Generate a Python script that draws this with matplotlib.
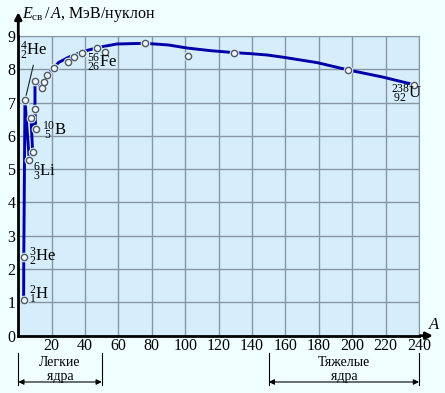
import matplotlib
matplotlib.use("Agg")
import matplotlib.pyplot as plt

plt.rcParams['font.family'] = ['Liberation Serif', 'DejaVu Serif']
plt.rcParams['mathtext.fontset'] = 'custom'
plt.rcParams['mathtext.rm'] = 'Liberation Serif'
plt.rcParams['mathtext.it'] = 'Liberation Serif:italic'

# light nuclei, zigzag through the measured points
A_light = [3.2, 3.3, 4.0, 6.6, 8.6, 7.6, 10.4, 10.0, 10.0, 14.0, 15.2, 17.4, 21.4]
E_light = [1.07, 2.37, 7.07, 5.27, 5.51, 6.55, 6.2, 6.8, 7.66, 7.43, 7.62, 7.83, 8.05]

# smooth curve for heavier nuclei
A_fit = [21.4, 24, 30, 38, 47.2, 59, 76, 90, 101, 115, 129.4, 139, 149, 159, 179, 197.6, 218, 236.8]
E_fit = [8.05, 8.2, 8.36, 8.52, 8.65, 8.76, 8.78, 8.73, 8.64, 8.56, 8.5, 8.47, 8.43, 8.36, 8.2, 7.98, 7.77, 7.54]

# other measured points
A_pts = [29.8, 33.4, 38, 47.2, 52, 75.6, 101.6, 129.4, 197.6, 236.8]
E_pts = [8.21, 8.38, 8.48, 8.65, 8.53, 8.78, 8.41, 8.5, 7.98, 7.54]

labels = [(r"${}^{4}_{2}$He", 1, 8.55), (r"${}^{10}_{\ 5}$B", 14, 6.15),
          (r"${}^{6}_{3}$Li", 9, 4.93), (r"${}^{3}_{2}$He", 6.5, 2.37),
          (r"${}^{2}_{1}$H", 6.2, 1.22), (r"${}^{56}_{26}$Fe", 41, 8.2),
          (r"${}^{238}_{\ 92}$U", 223, 7.25)]

outer = '#F0FFFF'
inner = '#D6EEFC'
blue = '#0000A8'

fig = plt.figure(figsize=(4.45, 3.93), dpi=100, facecolor=outer)
ax = fig.add_axes([0.0411, 0.1458, 0.9005, 0.7626])
ax.set_facecolor(inner)
ax.set_xlim(0, 240)
ax.set_ylim(0, 9)
ax.set_xticks(range(0, 241, 20))
ax.set_yticks(range(0, 10))
ax.set_xticklabels([''] + [str(v) for v in range(20, 241, 20)])
ax.tick_params(length=0, labelsize=11.5, pad=2)
ax.grid(color='#8696A3', lw=1)
ax.set_axisbelow(True)
for s in ['top', 'right']:
    ax.spines[s].set_color('#8696A3')
for s in ['left', 'bottom']:
    ax.spines[s].set_linewidth(2)
    ax.spines[s].set_zorder(5)

ax.plot(A_light, E_light, color=blue, lw=2.1, zorder=3)
ax.plot(A_fit, E_fit, color=blue, lw=2.1, zorder=3)

allA = A_light + A_pts
allE = E_light + E_pts
ax.plot(allA, allE, 'o', ms=7, mfc=inner, mec='none', zorder=4, clip_on=False)
ax.plot(allA, allE, 'o', ms=4.5, mfc='#F2F8FC', mec='#505860', mew=1, zorder=4, clip_on=False)

# leader line for He-4
ax.plot([4, 9], [7.07, 8.12], color='#202020', lw=0.8, zorder=3)

for txt, x, y in labels:
    ax.text(x, y, txt, fontsize=12, va='center', ha='left', zorder=6)

# axis arrows
ax.annotate('', xy=(0, 9.8), xytext=(0, 8.9), xycoords='data',
            arrowprops=dict(arrowstyle='-|>', color='black', lw=2, mutation_scale=10),
            annotation_clip=False)
ax.annotate('', xy=(250, 0), xytext=(239, 0),
            arrowprops=dict(arrowstyle='-|>', color='black', lw=2, mutation_scale=10),
            annotation_clip=False)
ax.text(249, 0.32, 'A', fontsize=12, style='italic', ha='center', va='center', clip_on=False)
fig.text(22 / 445, 1 - 15 / 393, r"$E_{\mathrm{св}}\,/\,A$, МэВ/нуклон", fontsize=11.5,
         ha='left', va='center')

# brackets for light and heavy nuclei
for x0, x1, t1, t2 in [(0, 50, 'Легкие', 'ядра'), (150, 240, 'Тяжелые', 'ядра')]:
    for x in (x0, x1):
        ax.plot([x, x], [-0.52, -1.48], color='black', lw=0.8, clip_on=False)
    ax.annotate('', xy=(x0, -1.39), xytext=(x1, -1.39),
                arrowprops=dict(arrowstyle='<|-|>', color='black', lw=0.8,
                                mutation_scale=8, shrinkA=0, shrinkB=0),
                annotation_clip=False)
    ax.text((x0 + x1) / 2, -0.80, t1, fontsize=10, ha='center', va='center', clip_on=False)
    ax.text((x0 + x1) / 2, -1.22, t2, fontsize=10, ha='center', va='center', clip_on=False)

fig.savefig('out.png', dpi=100, facecolor=outer)
